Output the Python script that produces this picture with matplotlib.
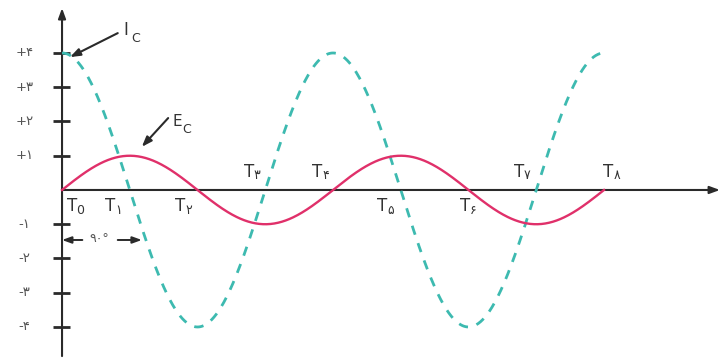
"""
Capacitor current and voltage waveforms: I_C leads E_C by 90 degrees.
"""

import matplotlib.pyplot as plt
import numpy as np

# Waveform parameters
ec_peak = 1.0        # E_C amplitude
ic_peak = 4.0        # I_C amplitude
ic_lead_deg = 90.0   # I_C leads E_C
span_deg = 720.0     # two full cycles

# Axis labels
y_ticks = [4, 3, 2, 1, -1, -2, -3, -4]
y_tick_labels = ['+۴', '+۳', '+۲', '+۱', '-۱', '-۲', '-۳', '-۴']
t_digits = ['0', '۱', '۲', '۳', '۴', '۵', '۶', '۷', '۸']
t_above = [False, False, False, True, True, False, False, True, True]
t_shift = [17, -22, -19, -18, -17, -21, -1, -19, 10]  # degrees, label offset from point

ec_color = '#e0306a'
ic_color = '#3dbab0'
ink = '#2a2a2a'
font = ['DejaVu Sans']

fig = plt.figure(figsize=(7.24, 3.6), dpi=100)
ax = fig.add_axes([0, 0, 1, 1])
ax.set_xlim(-82.4, 879.4)
ax.set_ylim(-4.964, 5.547)
ax.axis('off')

# Curves
theta = np.linspace(0, span_deg, 721)
ec = ec_peak * np.sin(np.radians(theta))
ic = ic_peak * np.sin(np.radians(theta + ic_lead_deg))
ax.plot(theta, ic, color=ic_color, lw=2.0, dashes=(3.4, 3.2), zorder=2)
ax.plot(theta, ec, color=ec_color, lw=1.7, zorder=3)

# Axes with arrows
arrow = dict(arrowstyle='-|>,head_length=0.6,head_width=0.22', color=ink, lw=1.5,
             shrinkA=0, shrinkB=0)
ax.annotate('', xy=(874, 0), xytext=(0, 0), arrowprops=arrow, zorder=1)
ax.annotate('', xy=(0, 5.31), xytext=(0, -4.85), arrowprops=arrow, zorder=1)

# Y ticks and labels
for val, lab in zip(y_ticks, y_tick_labels):
    ax.plot([-12, 10.6], [val, val], color=ink, lw=2.0, solid_capstyle='butt', zorder=1)
    ax.text(-50, val, lab, ha='center', va='center', fontsize=9.5, color='#555555',
            family=font)

# T labels at every quarter cycle
for k, (d, above, dx) in enumerate(zip(t_digits, t_above, t_shift)):
    x = k * 90 + dx
    y = 0.53 if above else -0.47
    ax.text(x - 4, y, 'T', ha='center', va='center', fontsize=12, color='#333333',
            family=font)
    ax.text(x + 7, y - 0.12, d, ha='center', va='center', fontsize=9, color='#333333',
            family=font)

# I_C pointer
ptr = dict(arrowstyle='-|>,head_length=0.6,head_width=0.22', color=ink, lw=1.5,
           shrinkA=0, shrinkB=0)
ax.annotate('', xy=(10.6, 3.88), xytext=(74, 4.58), arrowprops=ptr)
ax.text(85, 4.67, 'I', ha='center', va='center', fontsize=12, color='#333333', family=font)
ax.text(98, 4.42, 'C', ha='center', va='center', fontsize=9, color='#333333', family=font)

# E_C pointer
ax.annotate('', xy=(106, 1.26), xytext=(141, 2.1), arrowprops=ptr)
ax.text(153, 1.99, 'E', ha='center', va='center', fontsize=11, color='#333333', family=font)
ax.text(166, 1.76, 'C', ha='center', va='center', fontsize=9, color='#333333', family=font)

# 90 degree marker
small = dict(arrowstyle='-|>,head_length=0.55,head_width=0.2', color=ink, lw=1.4,
             shrinkA=0, shrinkB=0)
ax.annotate('', xy=(0, -1.46), xytext=(27, -1.46), arrowprops=small)
ax.annotate('', xy=(106, -1.46), xytext=(74, -1.46), arrowprops=small)
ax.text(50, -1.42, '۹۰°', ha='center', va='center', fontsize=9, color='#555555',
        family=font)

fig.savefig('out.png', dpi=100)
